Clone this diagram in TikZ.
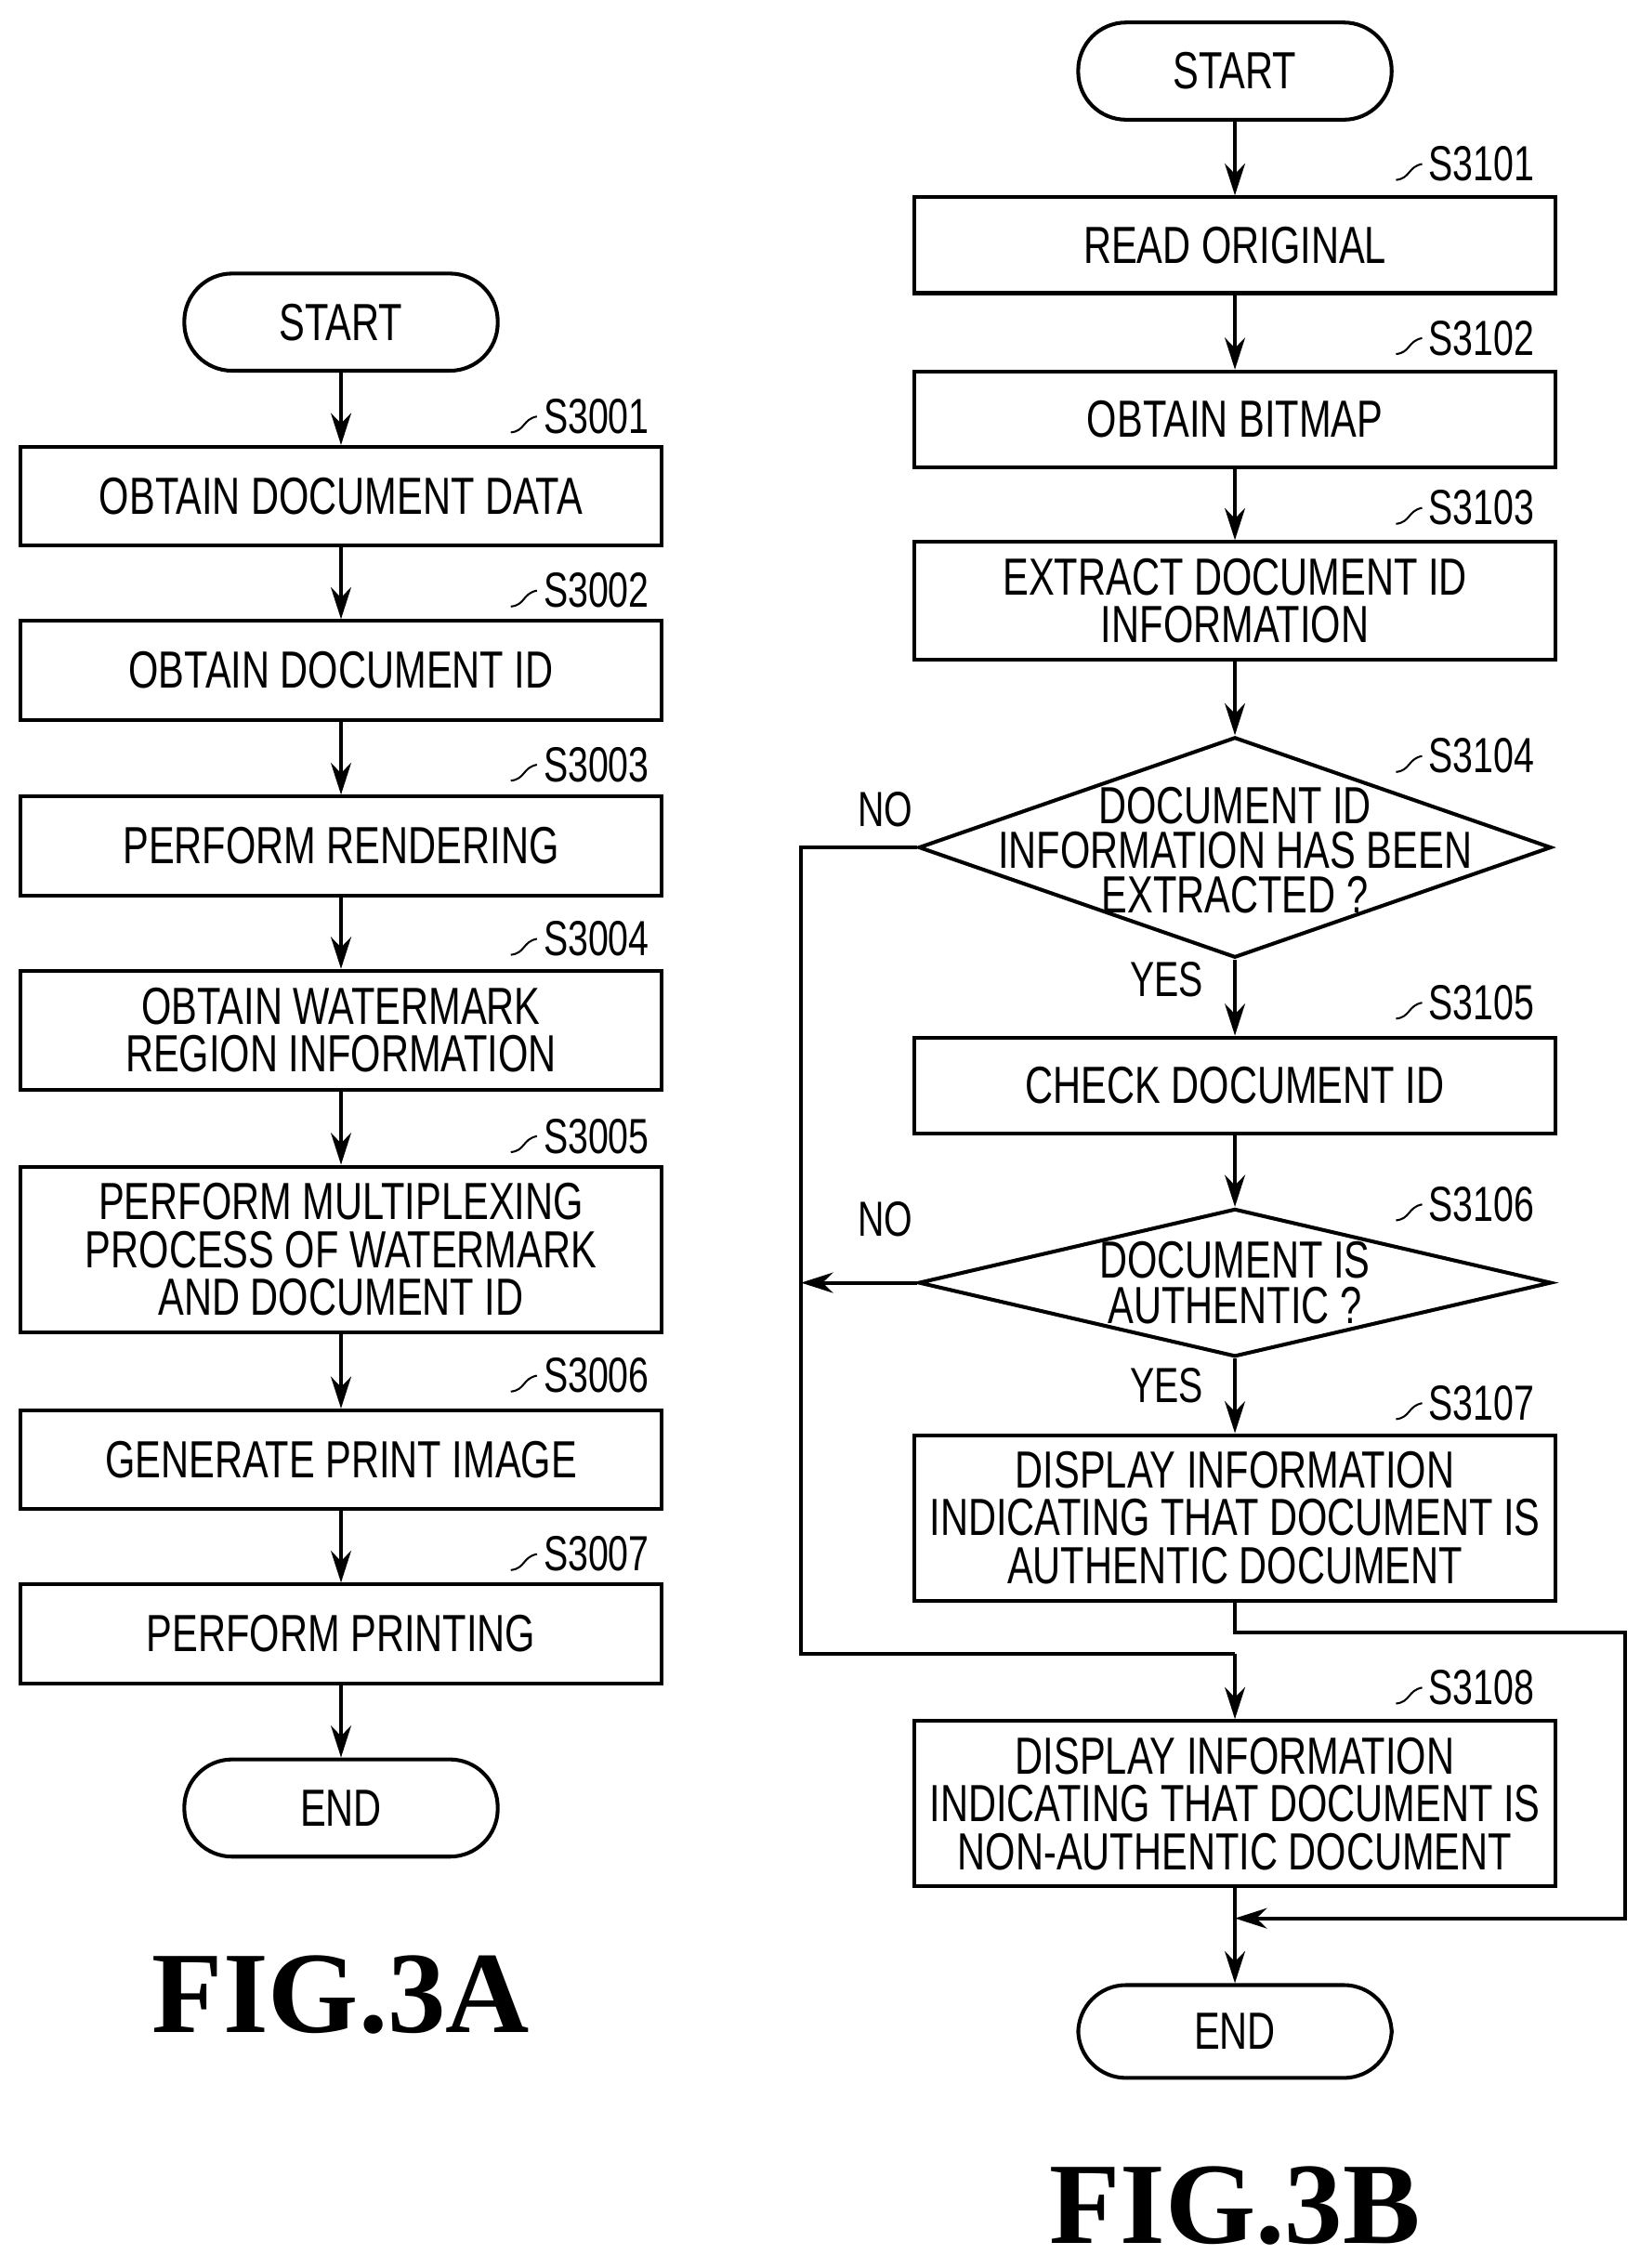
\documentclass[tikz,border=0pt]{standalone}
\usepackage{fontspec}
\setmainfont{Liberation Sans}[FakeStretch=0.74]
\newfontfamily\figfont{Liberation Serif}
\usetikzlibrary{arrows.meta,shapes.geometric}
\begin{document}
\begin{tikzpicture}[x=1pt,y=-1pt,line width=2.6pt,
  box/.style={draw,rectangle,minimum width=442pt,align=center,font=\fontsize{36}{33}\selectfont,inner sep=0pt},
  term/.style={draw,rectangle,rounded corners=33pt,minimum width=216pt,minimum height=67pt,font=\fontsize{36}{33}\selectfont},
  dia/.style={draw,diamond,inner sep=0pt},
  dtxt/.style={align=center,font=\fontsize{36}{31}\selectfont,inner sep=0pt},
  lab/.style={font=\fontsize{34}{34}\selectfont,anchor=west},
  arr/.style={-{Stealth[length=22pt,width=14pt]}},
  txt/.style={font=\fontsize{34}{34}\selectfont}]
\useasboundingbox (0,0) rectangle (1130,1563);
% left
\node[term] (s0) at (235,222) {START};
\node[box,minimum height=68pt] (a1) at (235,342) {OBTAIN DOCUMENT DATA};
\node[box,minimum height=68pt] (a2) at (235,462) {OBTAIN DOCUMENT ID};
\node[box,minimum height=68pt] (a3) at (235,583) {PERFORM RENDERING};
\node[box,minimum height=82pt] (a4) at (235,710) {OBTAIN WATERMARK\\REGION INFORMATION};
\node[box,minimum height=114pt] (a5) at (235,861) {PERFORM MULTIPLEXING\\PROCESS OF WATERMARK\\AND DOCUMENT ID};
\node[box,minimum height=68pt] (a6) at (235,1006) {GENERATE PRINT IMAGE};
\node[box,minimum height=68pt] (a7) at (235,1126) {PERFORM PRINTING};
\node[term] (e0) at (235,1246) {END};
\foreach \a/\b in {s0/a1,a1/a2,a2/a3,a3/a4,a4/a5,a5/a6,a6/a7,a7/e0} \draw[arr] (\a) -- (\b);
\foreach \n/\y/\t in {a1/287/S3001,a2/407/S3002,a3/527/S3003,a4/647/S3004,a5/783/S3005,a6/948/S3006,a7/1071/S3007}{
  \node[lab] (l\n) at (370,\y) {\t};
  \draw[line width=1.3pt] (l\n.west) .. controls (360,\y+2) and (362,\y+10) .. (352,\y+11);}
\node[font=\figfont\bfseries\fontsize{80}{80}\selectfont] (f1) at (235,1375) {FIG.3A};
% right
\node[term] (s1) at (851,49) {START};
\node[box,minimum height=66pt] (b1) at (851,169) {READ ORIGINAL};
\node[box,minimum height=66pt] (b2) at (851,289) {OBTAIN BITMAP};
\node[box,minimum height=81pt] (b3) at (851,414) {EXTRACT DOCUMENT ID\\INFORMATION};
\node[dia,minimum width=436pt,minimum height=152pt] (d1) at (851,584) {};
\node[dtxt] (t1) at (851,586) {DOCUMENT ID\\INFORMATION HAS BEEN\\EXTRACTED ?};
\node[box,minimum height=66pt] (b5) at (851,748) {CHECK DOCUMENT ID};
\node[dia,minimum width=436pt,minimum height=102pt] (d2) at (851,884) {};
\node[dtxt] (t2) at (851,884) {DOCUMENT IS\\AUTHENTIC ?};
\node[box,minimum height=114pt] (b7) at (851,1046) {DISPLAY INFORMATION\\INDICATING THAT DOCUMENT IS\\AUTHENTIC DOCUMENT};
\node[box,minimum height=114pt] (b8) at (851,1243) {DISPLAY INFORMATION\\INDICATING THAT DOCUMENT IS\\NON-AUTHENTIC DOCUMENT};
\node[term,minimum height=64pt] (e1) at (851,1400) {END};
\foreach \a/\b in {s1/b1,b1/b2,b2/b3,b3/d1,d1/b5,b5/d2,d2/b7,b8/e1} \draw[arr] (\a) -- (\b);
\foreach \n/\y/\t in {b1/113/S3101,b2/233/S3102,b3/350/S3103,d1/521/S3104,b5/691/S3105,d2/830/S3106,b7/967/S3107,b8/1163/S3108}{
  \node[lab] (l\n) at (980,\y) {\t};
  \draw[line width=1.3pt] (l\n.west) .. controls (970,\y+2) and (972,\y+10) .. (962,\y+11);}
\node[txt] (no1) at (610,558) {NO};
\node[txt] (no2) at (610,840) {NO};
\node[txt] (y1) at (804,675) {YES};
\node[txt] (y2) at (804,955) {YES};
\coordinate (c1) at (552,584);
\coordinate (c2) at (552,1140);
\coordinate (c3) at (851,1140);
\coordinate (c4) at (552,884);
\coordinate (c5) at (851,1125);
\coordinate (c6) at (1120,1125);
\coordinate (c7) at (1120,1322);
\coordinate (c8) at (851,1322);
\draw (d1.west) -- (c1) -- (c2) -- (c3);
\draw[arr] (c3) -- (b8.north);
\draw[arr] (d2.west) -- (c4);
\draw[arr] (b7.south) -- (c5) -- (c6) -- (c7) -- (c8);
\node[font=\figfont\bfseries\fontsize{80}{80}\selectfont] (f2) at (851,1520) {FIG.3B};
\end{tikzpicture}
\end{document}
